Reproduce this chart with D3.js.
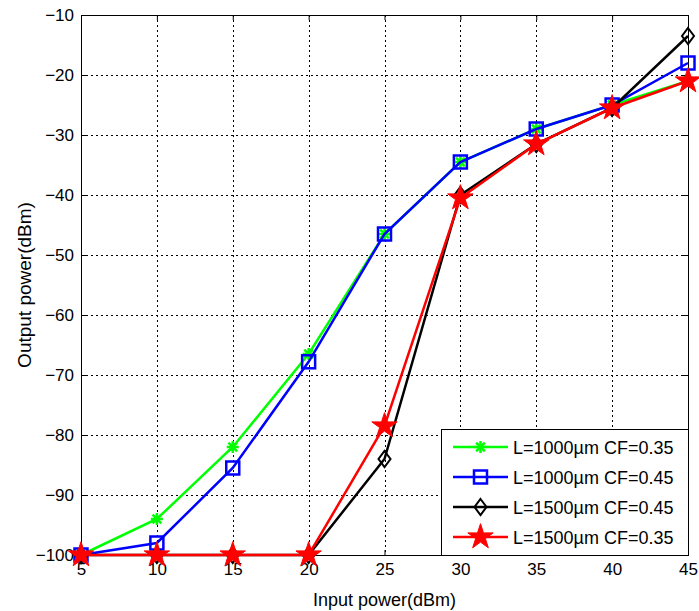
<!DOCTYPE html>
<html>
<head>
<meta charset="utf-8">
<script src="https://cdn.jsdelivr.net/npm/d3@7"></script>
<style>
  body { margin: 0; background: #fff; }
  text { font-family: "Liberation Sans", Arial, sans-serif; }
</style>
</head>
<body>
<div id="chart"></div>
<script>
// data
const inputPower = [5, 10, 15, 20, 25, 30, 35, 40, 45];
const green1000_035 = [-100, -94, -82, -66.5, -46.5, -34.5, -29, -25, -21];
const blue1000_045 = [-100, -98, -85.5, -67.8, -46.5, -34.5, -29, -25, -18];
const black1500_045 = [-100, -100, -100, -100, -84, -40, -31.5, -25.5, -13.5];
const red1500_035 = [-100, -100, -100, -100, -78.5, -40.5, -31.5, -25.5, -21];
const xTicks = [5, 10, 15, 20, 25, 30, 35, 40, 45];
const yTicks = [-100, -90, -80, -70, -60, -50, -40, -30, -20, -10];

const series = [
  { name: "L=1000\u00b5m CF=0.35", values: green1000_035, color: "#00ff00", marker: "asterisk" },
  { name: "L=1000\u00b5m CF=0.45", values: blue1000_045, color: "#0000ff", marker: "square" },
  { name: "L=1500\u00b5m CF=0.45", values: black1500_045, color: "#000000", marker: "diamond" },
  { name: "L=1500\u00b5m CF=0.35", values: red1500_035, color: "#ff0000", marker: "star" }
];

const width = 699, height = 611;
const margin = { left: 81, right: 11, top: 15, bottom: 56 };

const svg = d3.select("#chart").append("svg")
  .attr("width", width)
  .attr("height", height);

const x = d3.scaleLinear().domain([5, 45]).range([margin.left, width - margin.right]);
const y = d3.scaleLinear().domain([-100, -10]).range([height - margin.bottom, margin.top]);

// grid
const grid = svg.append("g").attr("stroke", "#000").attr("stroke-width", 1).attr("stroke-dasharray", "2,3");
grid.selectAll(".gx").data(xTicks.slice(1, -1)).enter().append("line")
  .attr("x1", d => Math.round(x(d)) + 0.5).attr("x2", d => Math.round(x(d)) + 0.5)
  .attr("y1", y(-10)).attr("y2", y(-100));
grid.selectAll(".gy").data(yTicks.slice(1, -1)).enter().append("line")
  .attr("y1", d => Math.round(y(d)) + 0.5).attr("y2", d => Math.round(y(d)) + 0.5)
  .attr("x1", x(5)).attr("x2", x(45));

// axes
svg.append("g")
  .attr("transform", `translate(0,${y(-100)})`)
  .call(d3.axisBottom(x).tickValues(xTicks).tickSize(-5).tickPadding(8).tickSizeOuter(0));
svg.append("g")
  .attr("transform", `translate(${x(5)},0)`)
  .call(d3.axisLeft(y).tickValues(yTicks).tickSize(-5).tickPadding(7).tickSizeOuter(0));
svg.append("g")
  .attr("transform", `translate(0,${y(-10)})`)
  .call(d3.axisTop(x).tickValues(xTicks).tickSize(-5).tickFormat("").tickSizeOuter(0));
svg.append("g")
  .attr("transform", `translate(${x(45)},0)`)
  .call(d3.axisRight(y).tickValues(yTicks).tickSize(-5).tickFormat("").tickSizeOuter(0));
svg.selectAll(".domain").attr("stroke", "#000").attr("stroke-width", 1);
svg.selectAll(".tick line").attr("stroke", "#000");
svg.selectAll(".tick text").attr("font-size", 17).attr("fill", "#000")
  .style("font-family", "'Liberation Sans', Arial, sans-serif");

// axis labels
svg.append("text")
  .attr("x", (x(5) + x(45)) / 2).attr("y", 606)
  .attr("text-anchor", "middle").attr("font-size", 18)
  .text("Input power(dBm)");
svg.append("text")
  .attr("transform", `translate(31,${(y(-10) + y(-100)) / 2}) rotate(-90)`)
  .attr("text-anchor", "middle").attr("font-size", 19)
  .text("Output power(dBm)");

// markers
function drawMarker(g, type, color) {
  if (type === "asterisk") {
    const r = 6;
    [[0, r], [r, 0], [r * 0.72, r * 0.72], [r * 0.72, -r * 0.72]].forEach(([dx, dy]) => {
      g.append("line").attr("x1", -dx).attr("y1", -dy).attr("x2", dx).attr("y2", dy)
        .attr("stroke", color).attr("stroke-width", 2.5);
    });
  } else if (type === "square") {
    g.append("rect").attr("x", -6.5).attr("y", -6.5).attr("width", 13).attr("height", 13)
      .attr("fill", "none").attr("stroke", color).attr("stroke-width", 2.5);
  } else if (type === "diamond") {
    g.append("path").attr("d", "M0,-8L6,0L0,8L-6,0Z")
      .attr("fill", "none").attr("stroke", color).attr("stroke-width", 2);
  } else if (type === "star") {
    g.append("path").attr("d", d3.symbol().type(d3.symbolStar).size(200)())
      .attr("fill", color).attr("stroke", color).attr("stroke-width", 1);
  }
}

const line = d3.line().x((d, i) => x(inputPower[i])).y(d => y(d));

series.forEach(s => {
  const g = svg.append("g");
  g.append("path").datum(s.values)
    .attr("d", line)
    .attr("fill", "none")
    .attr("stroke", s.color)
    .attr("stroke-width", 2.5);
  s.values.forEach((v, i) => {
    const m = g.append("g").attr("transform", `translate(${x(inputPower[i])},${y(v)})`);
    drawMarker(m, s.marker, s.color);
  });
});

// legend
const legend = svg.append("g");
legend.append("rect")
  .attr("x", 441.5).attr("y", 429.5).attr("width", 247).attr("height", 126)
  .attr("fill", "#fff").attr("stroke", "#000").attr("stroke-width", 1);
series.forEach((s, i) => {
  const ly = 447 + i * 30;
  const lg = legend.append("g");
  lg.append("line").attr("x1", 453).attr("x2", 508).attr("y1", ly).attr("y2", ly)
    .attr("stroke", s.color).attr("stroke-width", 2.5);
  const m = lg.append("g").attr("transform", `translate(480.5,${ly})`);
  drawMarker(m, s.marker, s.color);
  lg.append("text").attr("x", 513).attr("y", ly + 6.5)
    .attr("font-size", 18).text(s.name);
});
</script>
</body>
</html>
